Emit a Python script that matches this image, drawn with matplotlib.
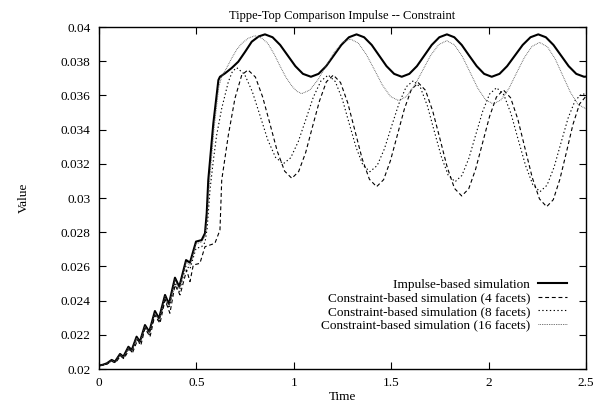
"""Tippe-top comparison: impulse-based vs constraint-based simulation (gnuplot-like look)."""

import numpy as np
import matplotlib
import matplotlib.pyplot as plt
from matplotlib.ticker import FormatStrFormatter

matplotlib.use('Agg')
plt.rcParams['font.family'] = ['Liberation Serif', 'DejaVu Serif']
plt.rcParams['font.size'] = 9.5

# ---- data --------------------------------------------------------------
impulse_t = [
    0, 0.02, 0.04, 0.065, 0.082, 0.108, 0.125, 0.151, 0.168, 0.193, 0.21,
    0.236, 0.258, 0.287, 0.308, 0.339, 0.359, 0.39, 0.412, 0.447, 0.467,
    0.498, 0.527, 0.544, 0.553, 0.561, 0.587, 0.613, 0.621, 0.647, 0.681,
    0.715, 0.75, 0.784, 0.82, 0.852,
    0.891, 0.93, 0.969, 1.008, 1.047, 1.088, 1.127, 1.166, 1.205, 1.244,
    1.283, 1.322, 1.361, 1.40, 1.438, 1.476, 1.515, 1.554, 1.593, 1.632,
    1.67, 1.708, 1.747, 1.786, 1.824, 1.862, 1.90, 1.939, 1.977, 2.016,
    2.056, 2.095, 2.135, 2.175, 2.215, 2.255, 2.294, 2.333, 2.372, 2.411,
    2.45, 2.49, 2.5,
]
impulse_v = [
    0.02020, 0.02025, 0.02033, 0.02053, 0.02043, 0.02088, 0.02072, 0.02130,
    0.02111, 0.02189, 0.02160, 0.02257, 0.02218, 0.02339, 0.02296, 0.02433,
    0.02380, 0.02534, 0.02481, 0.02637, 0.02622, 0.02745, 0.02754, 0.02794,
    0.02911, 0.03105, 0.03437, 0.03690, 0.03709, 0.03729, 0.03760, 0.03797,
    0.03855, 0.03914, 0.03945, 0.03957,
    0.03940, 0.03895, 0.03833, 0.03771, 0.03726, 0.03709, 0.03726, 0.03771,
    0.03833, 0.03895, 0.03940, 0.03957, 0.03940, 0.03895, 0.03833, 0.03771,
    0.03726, 0.03709, 0.03726, 0.03771, 0.03833, 0.03895, 0.03940, 0.03957,
    0.03940, 0.03895, 0.03833, 0.03771, 0.03726, 0.03709, 0.03726, 0.03771,
    0.03833, 0.03895, 0.03940, 0.03957, 0.03940, 0.03895, 0.03833, 0.03771,
    0.03726, 0.03709, 0.03710,
]

facets4_t = [
    0, 0.02, 0.04, 0.065, 0.085, 0.11, 0.128, 0.155, 0.172, 0.198, 0.215,
    0.236, 0.262, 0.287, 0.313, 0.339, 0.364, 0.39, 0.416, 0.45, 0.467,
    0.484, 0.518, 0.544, 0.595, 0.621, 0.63, 0.664, 0.698, 0.733, 0.765,
    0.803, 0.84, 0.878, 0.915, 0.953, 0.99,
    1.025, 1.061, 1.096, 1.132, 1.167, 1.203,
    1.24, 1.277, 1.314, 1.351, 1.388, 1.425,
    1.461, 1.496, 1.532, 1.568, 1.603, 1.639,
    1.676, 1.713, 1.751, 1.788, 1.825, 1.862,
    1.898, 1.933, 1.969, 2.005, 2.04, 2.076,
    2.113, 2.15, 2.187, 2.224, 2.261, 2.298,
    2.332, 2.366, 2.4, 2.433, 2.467, 2.5,
]
facets4_v = [
    0.02020, 0.02022, 0.02028, 0.02045, 0.02036, 0.02076, 0.02060, 0.02115,
    0.02095, 0.02170, 0.02140, 0.02238, 0.02189, 0.02316, 0.02267, 0.02404,
    0.02326, 0.02491, 0.02433, 0.02579, 0.02511, 0.02608, 0.02618, 0.02715,
    0.02735, 0.02813, 0.03105, 0.03368, 0.03583, 0.03720, 0.03749,
    0.03707, 0.03591, 0.03432, 0.03274, 0.03157, 0.03115,
    0.03155, 0.03266, 0.03417, 0.03568, 0.03679, 0.03719,
    0.03675, 0.03556, 0.03393, 0.03229, 0.03110, 0.03066,
    0.03107, 0.03218, 0.03370, 0.03522, 0.03633, 0.03674,
    0.03630, 0.03509, 0.03343, 0.03178, 0.03056, 0.03012,
    0.03054, 0.03167, 0.03322, 0.03477, 0.03590, 0.03632,
    0.03586, 0.03461, 0.03290, 0.03120, 0.02995, 0.02949,
    0.02990, 0.03110, 0.03270, 0.03430, 0.03550, 0.03595,
]

facets8_t = [
    0, 0.02, 0.04, 0.065, 0.082, 0.108, 0.125, 0.151, 0.168, 0.193, 0.21,
    0.236, 0.258, 0.287, 0.308, 0.339, 0.359, 0.39, 0.412, 0.447, 0.467,
    0.498, 0.527, 0.544, 0.555, 0.57, 0.587, 0.604, 0.63, 0.664, 0.685, 0.707,
    0.747, 0.787, 0.827, 0.866, 0.906, 0.946,
    0.984, 1.023, 1.062, 1.1, 1.139, 1.177,
    1.213, 1.249, 1.284, 1.32, 1.355, 1.391,
    1.428, 1.465, 1.502, 1.54, 1.577, 1.614,
    1.65, 1.686, 1.721, 1.757, 1.792, 1.828,
    1.863, 1.899, 1.934, 1.97, 2.005, 2.041,
    2.078, 2.115, 2.152, 2.19, 2.227, 2.264,
    2.3, 2.336, 2.372, 2.408, 2.444, 2.48, 2.5,
]
facets8_v = [
    0.02020, 0.02023, 0.02030, 0.02048, 0.02038, 0.02080, 0.02064, 0.02120,
    0.02100, 0.02175, 0.02146, 0.02240, 0.02200, 0.02318, 0.02275, 0.02408,
    0.02355, 0.02505, 0.02452, 0.02605, 0.02585, 0.02705, 0.02715, 0.02740,
    0.02820, 0.03050, 0.03220, 0.03368, 0.03524, 0.03680, 0.03740, 0.03762,
    0.03724, 0.03622, 0.03481, 0.03341, 0.03238, 0.03200,
    0.03235, 0.03330, 0.03460, 0.03589, 0.03684, 0.03719,
    0.03681, 0.03578, 0.03437, 0.03295, 0.03192, 0.03154,
    0.03190, 0.03287, 0.03420, 0.03553, 0.03650, 0.03686,
    0.03646, 0.03538, 0.03391, 0.03243, 0.03135, 0.03095,
    0.03132, 0.03233, 0.03370, 0.03508, 0.03608, 0.03645,
    0.03604, 0.03493, 0.03341, 0.03189, 0.03078, 0.03037,
    0.03075, 0.03180, 0.03324, 0.03467, 0.03570, 0.03610, 0.03605,
]

facets16_t = [
    0, 0.02, 0.04, 0.065, 0.082, 0.108, 0.125, 0.151, 0.168, 0.193, 0.21,
    0.236, 0.258, 0.287, 0.308, 0.339, 0.359, 0.39, 0.412, 0.447, 0.467,
    0.498, 0.527, 0.544, 0.555, 0.565, 0.59, 0.615, 0.63, 0.655, 0.681,
    0.707, 0.733, 0.767, 0.801, 0.835, 0.866, 0.9, 0.93, 0.96, 0.99, 1.015,
    1.04, 1.082, 1.123, 1.165, 1.207, 1.248, 1.29,
    1.331, 1.372, 1.414, 1.455, 1.496, 1.537,
    1.578, 1.62, 1.661, 1.702, 1.744, 1.785,
    1.825, 1.865, 1.905, 1.944, 1.984, 2.024,
    2.064, 2.104, 2.143, 2.183, 2.222, 2.262,
    2.302, 2.342, 2.381, 2.42, 2.46, 2.5,
]
facets16_v = [
    0.02020, 0.02024, 0.02031, 0.02050, 0.02040, 0.02084, 0.02068, 0.02125,
    0.02106, 0.02183, 0.02154, 0.02250, 0.02210, 0.02330, 0.02287, 0.02423,
    0.02370, 0.02522, 0.02470, 0.02625, 0.02608, 0.02732, 0.02742, 0.02780,
    0.02880, 0.03060, 0.03400, 0.03650, 0.03710, 0.03760, 0.03817,
    0.03868, 0.03904, 0.03935, 0.03949, 0.03935, 0.03905, 0.03840, 0.03770,
    0.03705, 0.03655, 0.03625,
    0.03610, 0.03631, 0.03690, 0.03770, 0.03850, 0.03909, 0.03930,
    0.03906, 0.03840, 0.03750, 0.03660, 0.03594, 0.03570,
    0.03593, 0.03658, 0.03745, 0.03833, 0.03897, 0.03920,
    0.03895, 0.03828, 0.03735, 0.03643, 0.03575, 0.03550,
    0.03574, 0.03640, 0.03730, 0.03820, 0.03886, 0.03910,
    0.03884, 0.03813, 0.03715, 0.03618, 0.03546, 0.03522,
]

x_ticks = [0, 0.5, 1, 1.5, 2, 2.5]
y_ticks = np.arange(0.02, 0.04001, 0.002)

# ---- figure --------------------------------------------------------------
fig = plt.figure(figsize=(5.93, 4.03), dpi=100)
ax = fig.add_axes((99 / 593, 34 / 403, 487 / 593, 342 / 403))

ax.plot(impulse_t, impulse_v, color='black', lw=1.5, label='Impulse-based simulation')
ax.plot(facets4_t, facets4_v, color='black', lw=0.8, dashes=(3.5, 2.5),
        label='Constraint-based simulation (4 facets)')
ax.plot(facets8_t, facets8_v, color='black', lw=0.8, dashes=(1.2, 2.2),
        label='Constraint-based simulation (8 facets)')
ax.plot(facets16_t, facets16_v, color='#555555', lw=0.7, dashes=(0.8, 1.0),
        label='Constraint-based simulation (16 facets)')

ax.set_xlim(0, 2.5)
ax.set_ylim(0.02, 0.04)
ax.set_xticks(x_ticks)
ax.set_yticks(y_ticks)
ax.xaxis.set_major_formatter(FormatStrFormatter('%g'))
ax.yaxis.set_major_formatter(FormatStrFormatter('%g'))
ax.tick_params(direction='in', top=True, right=True, length=5, width=0.8, pad=6)
for spine in ax.spines.values():
    spine.set_linewidth(1.0)

ax.set_title('Tippe-Top Comparison Impulse -- Constraint', fontsize=9, pad=6)
ax.set_xlabel('Time', labelpad=1)
ax.set_ylabel('Value', labelpad=22)

ax.legend(loc='lower right', bbox_to_anchor=(0.975, 0.09), frameon=False,
          markerfirst=False, handlelength=2.2, handletextpad=0.6,
          labelspacing=0.1, borderpad=0, fontsize=9.5)

plt.savefig('out.png', dpi=100)
plt.close(fig)
